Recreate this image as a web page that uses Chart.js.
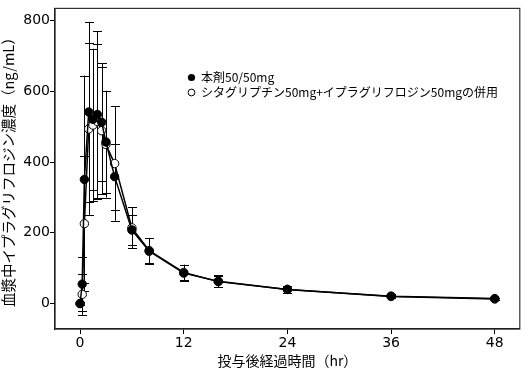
<!DOCTYPE html>
<html>
<head>
<meta charset="utf-8">
<script src="https://cdn.jsdelivr.net/npm/chart.js@4/dist/chart.umd.min.js"></script>
<style>
html,body{margin:0;padding:0;background:#fff;}
canvas{display:block;}
</style>
</head>
<body>
<canvas id="c" width="525" height="369"></canvas>
<script>
// ---- data ----
const times = [0, 0.25, 0.5, 1, 1.5, 2, 2.5, 3, 4, 6, 8, 12, 16, 24, 36, 48];
const fixedMean = [0, 55, 351, 542, 521, 535, 513, 457, 359, 208, 148, 86, 63, 40, 21, 14];
const fixedSD   = [4, 77, 294, 255, 200, 235, 167, 145, 93, 42, 37, 22, 17, 11, 5, 3];
const coMean    = [0, 26, 226, 494, 505, 515, 489, 450, 396, 214, 150, 88, 62, 40, 20, 13];
const coSD      = [4, 58, 191, 243, 215, 220, 180, 150, 162, 58, 36, 22, 16, 10, 5, 3];
const xTicks = [0, 12, 24, 36, 48];
const yTicks = [0, 200, 400, 600, 800];
const fixedLabel = '本剤50/50mg';
const coLabel = 'シタグリプチン50mg+イプラグリフロジン50mgの併用';
const xTitle = '投与後経過時間（hr）';
const yTitle = '血漿中イプラグリフロジン濃度（ng/mL）';

const toPts = (m) => times.map((t, i) => ({x: t, y: m[i]}));

const errorBars = {
  id: 'errorBars',
  beforeDatasetsDraw(chart) {
    const ctx = chart.ctx;
    const xs = chart.scales.x, ys = chart.scales.y;
    const sets = [[fixedMean, fixedSD], [coMean, coSD]];
    ctx.save();
    ctx.strokeStyle = '#000';
    ctx.lineWidth = 1;
    sets.forEach(([m, sd]) => {
      times.forEach((t, i) => {
        const px = Math.round(xs.getPixelForValue(t)) + 0.5;
        const top = ys.getPixelForValue(m[i] + sd[i]);
        const bot = ys.getPixelForValue(m[i] - sd[i]);
        ctx.beginPath();
        ctx.moveTo(px, top); ctx.lineTo(px, bot);
        ctx.moveTo(px - 4.5, Math.round(top) + 0.5); ctx.lineTo(px + 4.5, Math.round(top) + 0.5);
        ctx.moveTo(px - 4.5, Math.round(bot) + 0.5); ctx.lineTo(px + 4.5, Math.round(bot) + 0.5);
        ctx.stroke();
      });
    });
    ctx.restore();
  }
};

const frameAndLegend = {
  id: 'frameAndLegend',
  afterDraw(chart) {
    const ctx = chart.ctx;
    const a = chart.chartArea;
    ctx.save();
    ctx.lineWidth = 1.2;
    ctx.strokeStyle = '#333';
    ctx.strokeRect(a.left, a.top, a.right - a.left, a.bottom - a.top);
    // legend
    ctx.font = '12px "Noto Sans CJK JP", sans-serif';
    ctx.textBaseline = 'middle';
    ctx.fillStyle = '#000';
    ctx.beginPath(); ctx.arc(191.5, 77.5, 3.6, 0, Math.PI * 2); ctx.fill();
    ctx.fillText(fixedLabel, 201, 77.5);
    ctx.lineWidth = 1;
    ctx.strokeStyle = '#000';
    ctx.fillStyle = '#fff';
    ctx.beginPath(); ctx.arc(191.5, 92.5, 3.4, 0, Math.PI * 2); ctx.fill(); ctx.stroke();
    ctx.fillStyle = '#000';
    ctx.fillText(coLabel, 201, 92.5);
    ctx.restore();
  }
};

new Chart(document.getElementById('c'), {
  type: 'line',
  data: {
    datasets: [
      {
        label: fixedLabel,
        data: toPts(fixedMean),
        borderColor: '#000',
        borderWidth: 1.5,
        backgroundColor: '#000',
        pointBackgroundColor: '#000',
        pointBorderColor: '#000',
        pointBorderWidth: 1,
        pointRadius: 4.2,
        tension: 0,
        order: 0
      },
      {
        label: coLabel,
        data: toPts(coMean),
        borderColor: '#000',
        borderWidth: 1.5,
        backgroundColor: '#fff',
        pointBackgroundColor: '#fff',
        pointBorderColor: '#000',
        pointBorderWidth: 1,
        pointRadius: 4.2,
        tension: 0,
        order: 1
      }
    ]
  },
  options: {
    responsive: false,
    animation: false,
    devicePixelRatio: 1,
    layout: {padding: {top: 1, right: 1.5, left: 0, bottom: 0}},
    plugins: {legend: {display: false}, tooltip: {enabled: false}},
    scales: {
      x: {
        type: 'linear',
        min: -2.9,
        max: 50.9,
        afterFit: s => { s.height = 40; },
        afterBuildTicks: s => { s.ticks = xTicks.map(v => ({value: v})); },
        grid: {display: true, drawOnChartArea: false, drawTicks: true, tickLength: 5, color: '#000', lineWidth: 1},
        border: {display: true, color: '#000', width: 1.2},
        ticks: {color: '#000', font: {family: '"DejaVu Sans"', size: 14}, padding: 1, maxRotation: 0},
        title: {display: true, text: xTitle, color: '#000', font: {family: '"Noto Sans CJK JP"', size: 14}, padding: {top: 0, bottom: 0}}
      },
      y: {
        type: 'linear',
        min: -72,
        max: 835,
        afterFit: s => { s.width = 55; },
        afterBuildTicks: s => { s.ticks = yTicks.map(v => ({value: v})); },
        grid: {display: true, drawOnChartArea: false, drawTicks: true, tickLength: 5, color: '#000', lineWidth: 1},
        border: {display: true, color: '#000', width: 1.2},
        ticks: {color: '#000', font: {family: '"DejaVu Sans"', size: 14}, padding: 0},
        title: {display: true, text: yTitle, color: '#000', font: {family: '"Noto Sans CJK JP"', size: 14.5}, padding: {top: 0, bottom: 0}}
      }
    }
  },
  plugins: [errorBars, frameAndLegend]
});
</script>
</body>
</html>
